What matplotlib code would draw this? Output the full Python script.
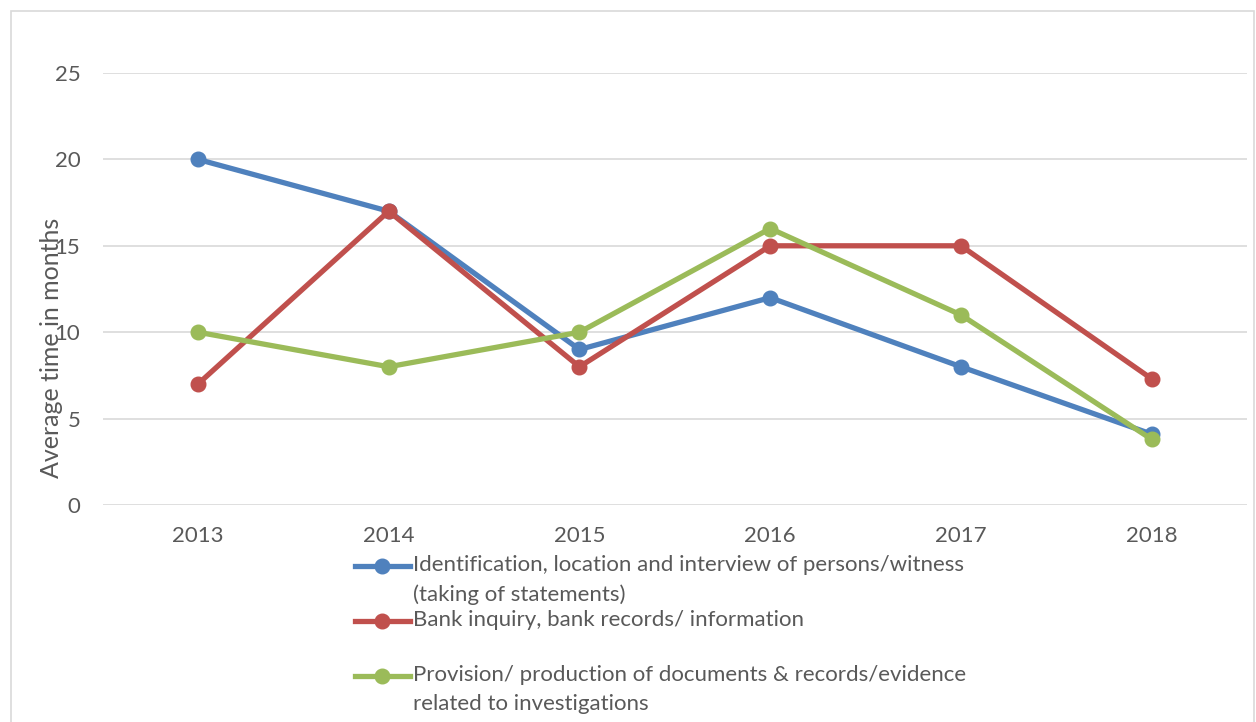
import matplotlib
matplotlib.use("Agg")
import matplotlib.pyplot as plt
from matplotlib.lines import Line2D
from matplotlib.patches import Rectangle

# ── data ────────────────────────────────────────────────────────────
years = ["2013", "2014", "2015", "2016", "2017", "2018"]
witness = [20, 17, 9, 12, 8, 4.1]
bank = [7, 17, 8, 15, 15, 7.3]
documents = [10, 8, 10, 16, 11, 3.8]

labels = [
    "Identification, location and interview of persons/witness\n(taking of statements)",
    "Bank inquiry, bank records/ information",
    "Provision/ production of documents & records/evidence\nrelated to investigations",
]
colors = ["#4F81BD", "#C0504D", "#9BBB59"]

TEXT = "#595959"
W, H = 1256, 722

plt.rcParams["font.family"] = ["Lato", "DejaVu Sans"]

fig = plt.figure(figsize=(W / 100, H / 100), dpi=100)

# chart border
fig.patches.append(Rectangle((11 / W, -0.05), (W - 13) / W, 1.05 - 11 / H,
                             transform=fig.transFigure, facecolor="none",
                             edgecolor="#D9D9D9", linewidth=1.2))

ax = fig.add_axes([102.6 / W, 1 - 505 / H, 1144.5 / W, 432 / H])

x = list(range(len(years)))
for vals, c in zip([witness, bank, documents], colors):
    ax.plot(x, vals, color=c, linewidth=3.8, marker="o", markersize=10.5,
            solid_capstyle="round", zorder=3)

ax.set_xlim(-0.5, len(years) - 0.5)
ax.set_ylim(0, 25)
ax.set_yticks([0, 5, 10, 15, 20, 25])
ax.set_xticks(x)
ax.set_xticklabels(years)
ax.grid(axis="y", color="#D9D9D9", linewidth=1.2)
ax.set_axisbelow(True)
for s in ax.spines.values():
    s.set_visible(False)
ax.tick_params(axis="both", length=0, labelsize=16, colors=TEXT)
ax.tick_params(axis="y", pad=16)
ax.tick_params(axis="x", pad=15)

# axis title overlaps the tick labels, as in the original
fig.text(52 / W, 1 - 348 / H, "Average time in months", rotation=90,
         ha="center", va="center", fontsize=18, color=TEXT)

# legend drawn by hand so handles align with the first text line
rows = [566, 621, 676]
for lab, c, ry in zip(labels, colors, rows):
    yf = 1 - ry / H
    fig.add_artist(Line2D([355 / W, 410 / W], [yf, yf], color=c, linewidth=3.8,
                          transform=fig.transFigure))
    fig.add_artist(Line2D([382 / W], [yf], color=c, marker="o", markersize=10.5,
                          transform=fig.transFigure))
    fig.text(413 / W, yf + 11 / H, lab, ha="left", va="top", fontsize=16,
             color=TEXT, linespacing=1.55)

fig.savefig("out.png", dpi=100)
